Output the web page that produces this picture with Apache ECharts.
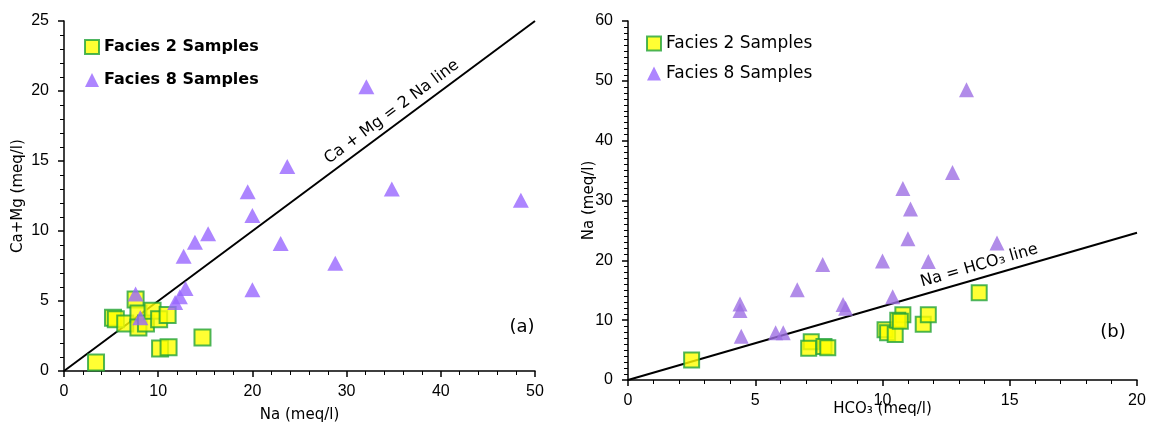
<!DOCTYPE html>
<html>
<head>
<meta charset="utf-8">
<script src="https://cdn.jsdelivr.net/npm/echarts@6/dist/echarts.min.js"></script>
<style>
html, body { margin: 0; padding: 0; background: #fff; }
#chart { width: 1149px; height: 423px; }
</style>
</head>
<body>
<div id="chart"></div>
<script>
// (a) Ca+Mg vs Na
var f2Na = [3.4, 5.2, 5.5, 6.5, 7.6, 7.9, 7.9, 8.7, 9.4, 10.1, 11.0, 10.2, 11.1, 14.7];
var f2CaMg = [0.6, 3.8, 3.7, 3.4, 5.1, 4.1, 3.1, 3.4, 4.3, 3.7, 4.0, 1.6, 1.7, 2.4];
var f8Na = [32.1, 23.7, 19.5, 20.0, 34.8, 48.5, 15.3, 13.9, 12.7, 23.0, 28.8, 20.0, 12.9, 12.3, 11.8, 7.6, 8.1];
var f8CaMg = [20.3, 14.6, 12.8, 11.1, 13.0, 12.2, 9.8, 9.2, 8.2, 9.1, 7.7, 5.8, 5.9, 5.3, 4.9, 5.5, 3.8];
var lineA = [[0, 0], [50, 25]];

// (b) Na vs HCO3
var f2Hco3 = [2.5, 7.2, 7.1, 7.7, 7.85, 10.1, 10.2, 10.5, 10.8, 10.6, 10.7, 11.6, 11.8, 13.8];
var f2NaB = [3.35, 6.4, 5.3, 5.6, 5.4, 8.4, 7.9, 7.6, 10.9, 10.0, 9.8, 9.3, 10.9, 14.6];
var f8Hco3 = [13.3, 12.75, 10.8, 11.1, 11.0, 14.5, 10.0, 11.8, 7.65, 6.65, 10.4, 4.4, 4.4, 8.45, 8.55, 4.45, 5.8, 6.1];
var f8NaB = [48.5, 34.7, 32.0, 28.6, 23.6, 22.9, 19.9, 19.8, 19.3, 15.1, 13.9, 12.7, 11.6, 12.6, 12.0, 7.3, 7.9, 7.9];
var lineB = [[0, 0], [20, 24.6]];

var legendNames = ['Facies 2 Samples', 'Facies 8 Samples'];

function pairs(xs, ys) {
    return xs.map(function (x, i) { return [x, ys[i]]; });
}

function axis(grid, min, max, step, minor, name, gap, labelGap) {
    return {
        type: 'value', gridIndex: grid, min: min, max: max, interval: step,
        name: name, nameLocation: 'middle', nameGap: gap, nameMoveOverlap: false,
        nameTextStyle: { fontFamily: 'DejaVu Sans', fontSize: 15, color: '#000' },
        axisLine: { lineStyle: { color: '#000', width: 1.5 } },
        axisTick: { length: 6, lineStyle: { color: '#000', width: 1.5 } },
        minorTick: { show: true, splitNumber: minor, length: 4, lineStyle: { color: '#000', width: 1 } },
        splitLine: { show: false },
        axisLabel: { fontFamily: 'Liberation Sans', fontSize: 16, color: '#000', margin: labelGap }
    };
}

var sq = { color: '#ffff00', borderColor: '#22a33a', borderWidth: 2 };

var myChart = echarts.init(document.getElementById('chart'));

var option = {
    animation: false,
    grid: [
        { left: 64, right: 614, top: 21, bottom: 52, outerBoundsMode: 'none' },
        { left: 628, right: 12, top: 21, bottom: 43, outerBoundsMode: 'none' }
    ],
    xAxis: [
        axis(0, 0, 50, 10, 5, 'Na (meq/l)', 37, 13),
        axis(1, 0, 20, 5, 5, 'HCO₃ (meq/l)', 22, 13)
    ],
    yAxis: [
        axis(0, 0, 25, 5, 5, 'Ca+Mg (meq/l)', 38, 15),
        axis(1, 0, 60, 10, 10, 'Na (meq/l)', 31, 15)
    ],
    legend: [
        {
            orient: 'vertical', left: 79, top: 34, itemWidth: 14, itemHeight: 14, itemGap: 17,
            textStyle: { fontFamily: 'DejaVu Sans', fontSize: 16, fontWeight: 'bold', color: '#000' },
            data: legendNames
        },
        {
            orient: 'vertical', left: 641, top: 30, itemWidth: 14, itemHeight: 14, itemGap: 13,
            textStyle: { fontFamily: 'DejaVu Sans', fontSize: 17, color: '#000' },
            data: legendNames
        }
    ],
    series: [
        {
            type: 'line', xAxisIndex: 0, yAxisIndex: 0, data: lineA, showSymbol: false, silent: true,
            lineStyle: { color: '#000', width: 2 }, z: 1
        },
        {
            name: 'Facies 2 Samples', type: 'scatter', xAxisIndex: 0, yAxisIndex: 0,
            symbol: 'rect', symbolSize: 16, itemStyle: sq, data: pairs(f2Na, f2CaMg), z: 2
        },
        {
            name: 'Facies 8 Samples', type: 'scatter', xAxisIndex: 0, yAxisIndex: 0,
            symbol: 'triangle', symbolSize: [16, 15], itemStyle: { color: '#9966ff' },
            data: pairs(f8Na, f8CaMg), z: 3
        },
        {
            type: 'line', xAxisIndex: 1, yAxisIndex: 1, data: lineB, showSymbol: false, silent: true,
            lineStyle: { color: '#000', width: 2 }, z: 1
        },
        {
            name: 'Facies 2 Samples', type: 'scatter', xAxisIndex: 1, yAxisIndex: 1,
            symbol: 'rect', symbolSize: 15, itemStyle: sq, data: pairs(f2Hco3, f2NaB), z: 2
        },
        {
            name: 'Facies 8 Samples', type: 'scatter', xAxisIndex: 1, yAxisIndex: 1,
            symbol: 'triangle', symbolSize: [15, 15], itemStyle: { color: '#9d6fe3' },
            data: pairs(f8Hco3, f8NaB), z: 3
        }
    ]
};

myChart.setOption(option);

// labels along the reference lines
function lineLabel(grid, line, at, text) {
    var p0 = myChart.convertToPixel({ gridIndex: grid }, line[0]);
    var p1 = myChart.convertToPixel({ gridIndex: grid }, line[1]);
    var c = myChart.convertToPixel({ gridIndex: grid }, at);
    return {
        type: 'text', x: c[0], y: c[1],
        rotation: Math.atan2(p0[1] - p1[1], p1[0] - p0[0]),
        style: {
            text: text, fill: '#000', fontFamily: 'DejaVu Sans', fontSize: 16,
            align: 'center', verticalAlign: 'middle'
        }
    };
}

myChart.setOption({
    graphic: [
        lineLabel(0, lineA, [34.8, 18.5], 'Ca + Mg = 2 Na line'),
        lineLabel(1, lineB, [13.8, 19.1], 'Na = HCO₃ line'),
        {
            type: 'text', x: 522, y: 327,
            style: { text: '(a)', fill: '#000', fontFamily: 'DejaVu Sans', fontSize: 18, align: 'center', verticalAlign: 'middle' }
        },
        {
            type: 'text', x: 1113, y: 332,
            style: { text: '(b)', fill: '#000', fontFamily: 'DejaVu Sans', fontSize: 18, align: 'center', verticalAlign: 'middle' }
        }
    ]
});
</script>
</body>
</html>
